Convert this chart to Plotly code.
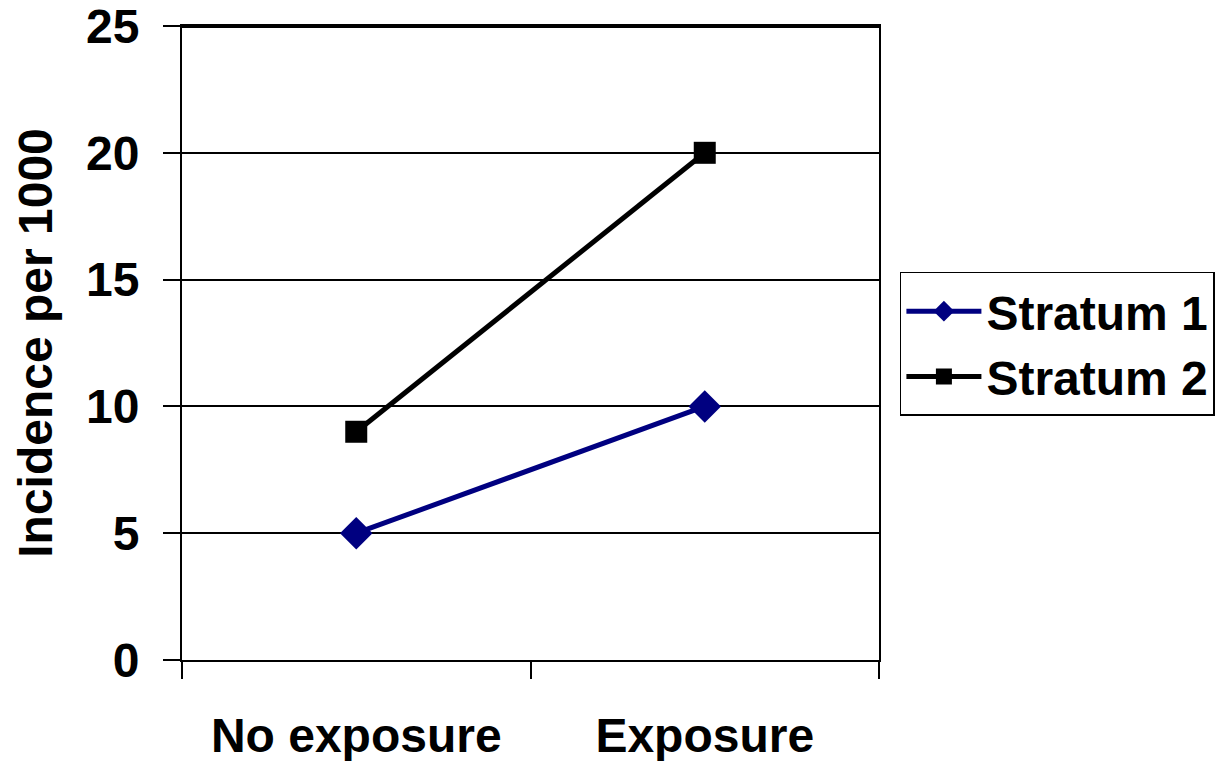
import plotly.graph_objects as go

# Incidence per 1000 by exposure status, in two strata
categories = ["No exposure", "Exposure"]
stratum_1 = [5, 10]
stratum_2 = [9, 20]
y_ticks = [0, 5, 10, 15, 20, 25]

FONT = "Liberation Sans, Arial, sans-serif"
TXT = dict(family=FONT, size=48, color="black", weight="bold")

fig = go.Figure()
fig.add_trace(go.Scatter(
    x=categories, y=stratum_1, name="Stratum 1", mode="lines+markers",
    line=dict(color="#000080", width=5),
    marker=dict(symbol="diamond", size=25, color="#000080"),
))
fig.add_trace(go.Scatter(
    x=categories, y=stratum_2, name="Stratum 2", mode="lines+markers",
    line=dict(color="#000000", width=5),
    marker=dict(symbol="square", size=22, color="#000000"),
))

fig.update_layout(
    width=1226, height=761,
    margin=dict(l=182, r=347, t=26, b=101, autoexpand=False),
    paper_bgcolor="white", plot_bgcolor="white",
    font=TXT,
    showlegend=True,
    legend=dict(
        x=1.03, y=0.612, xanchor="left", yanchor="top",
        bordercolor="black", borderwidth=1.5,
        font=TXT, tracegroupgap=0, itemwidth=75,
    ),
    # heavier top edge of the plot frame
    shapes=[dict(type="line", xref="paper", yref="y", x0=0, x1=1, y0=25, y1=25,
                 line=dict(color="black", width=4), layer="above")],
)

fig.update_xaxes(
    type="category", range=[-0.5, 1.5], automargin=False,
    tickson="boundaries", ticks="outside", ticklen=17, tickwidth=2, tickcolor="black",
    showline=True, linecolor="black", linewidth=2, mirror=True,
    showgrid=False, zeroline=False,
    ticklabelstandoff=32, ticklabeloverflow="allow",
    tickfont=TXT,
)
fig.update_yaxes(
    range=[0, 25], tickvals=y_ticks, automargin=False,
    ticks="outside", ticklen=17, tickwidth=2, tickcolor="black",
    showline=True, linecolor="black", linewidth=2, mirror=True,
    showgrid=True, gridcolor="black", gridwidth=1.5, zeroline=False,
    ticklabelstandoff=14, ticklabeloverflow="allow",
    tickfont=TXT,
    title=dict(text="Incidence per 1000", standoff=18, font=TXT),
)

fig.write_html("out.html")
